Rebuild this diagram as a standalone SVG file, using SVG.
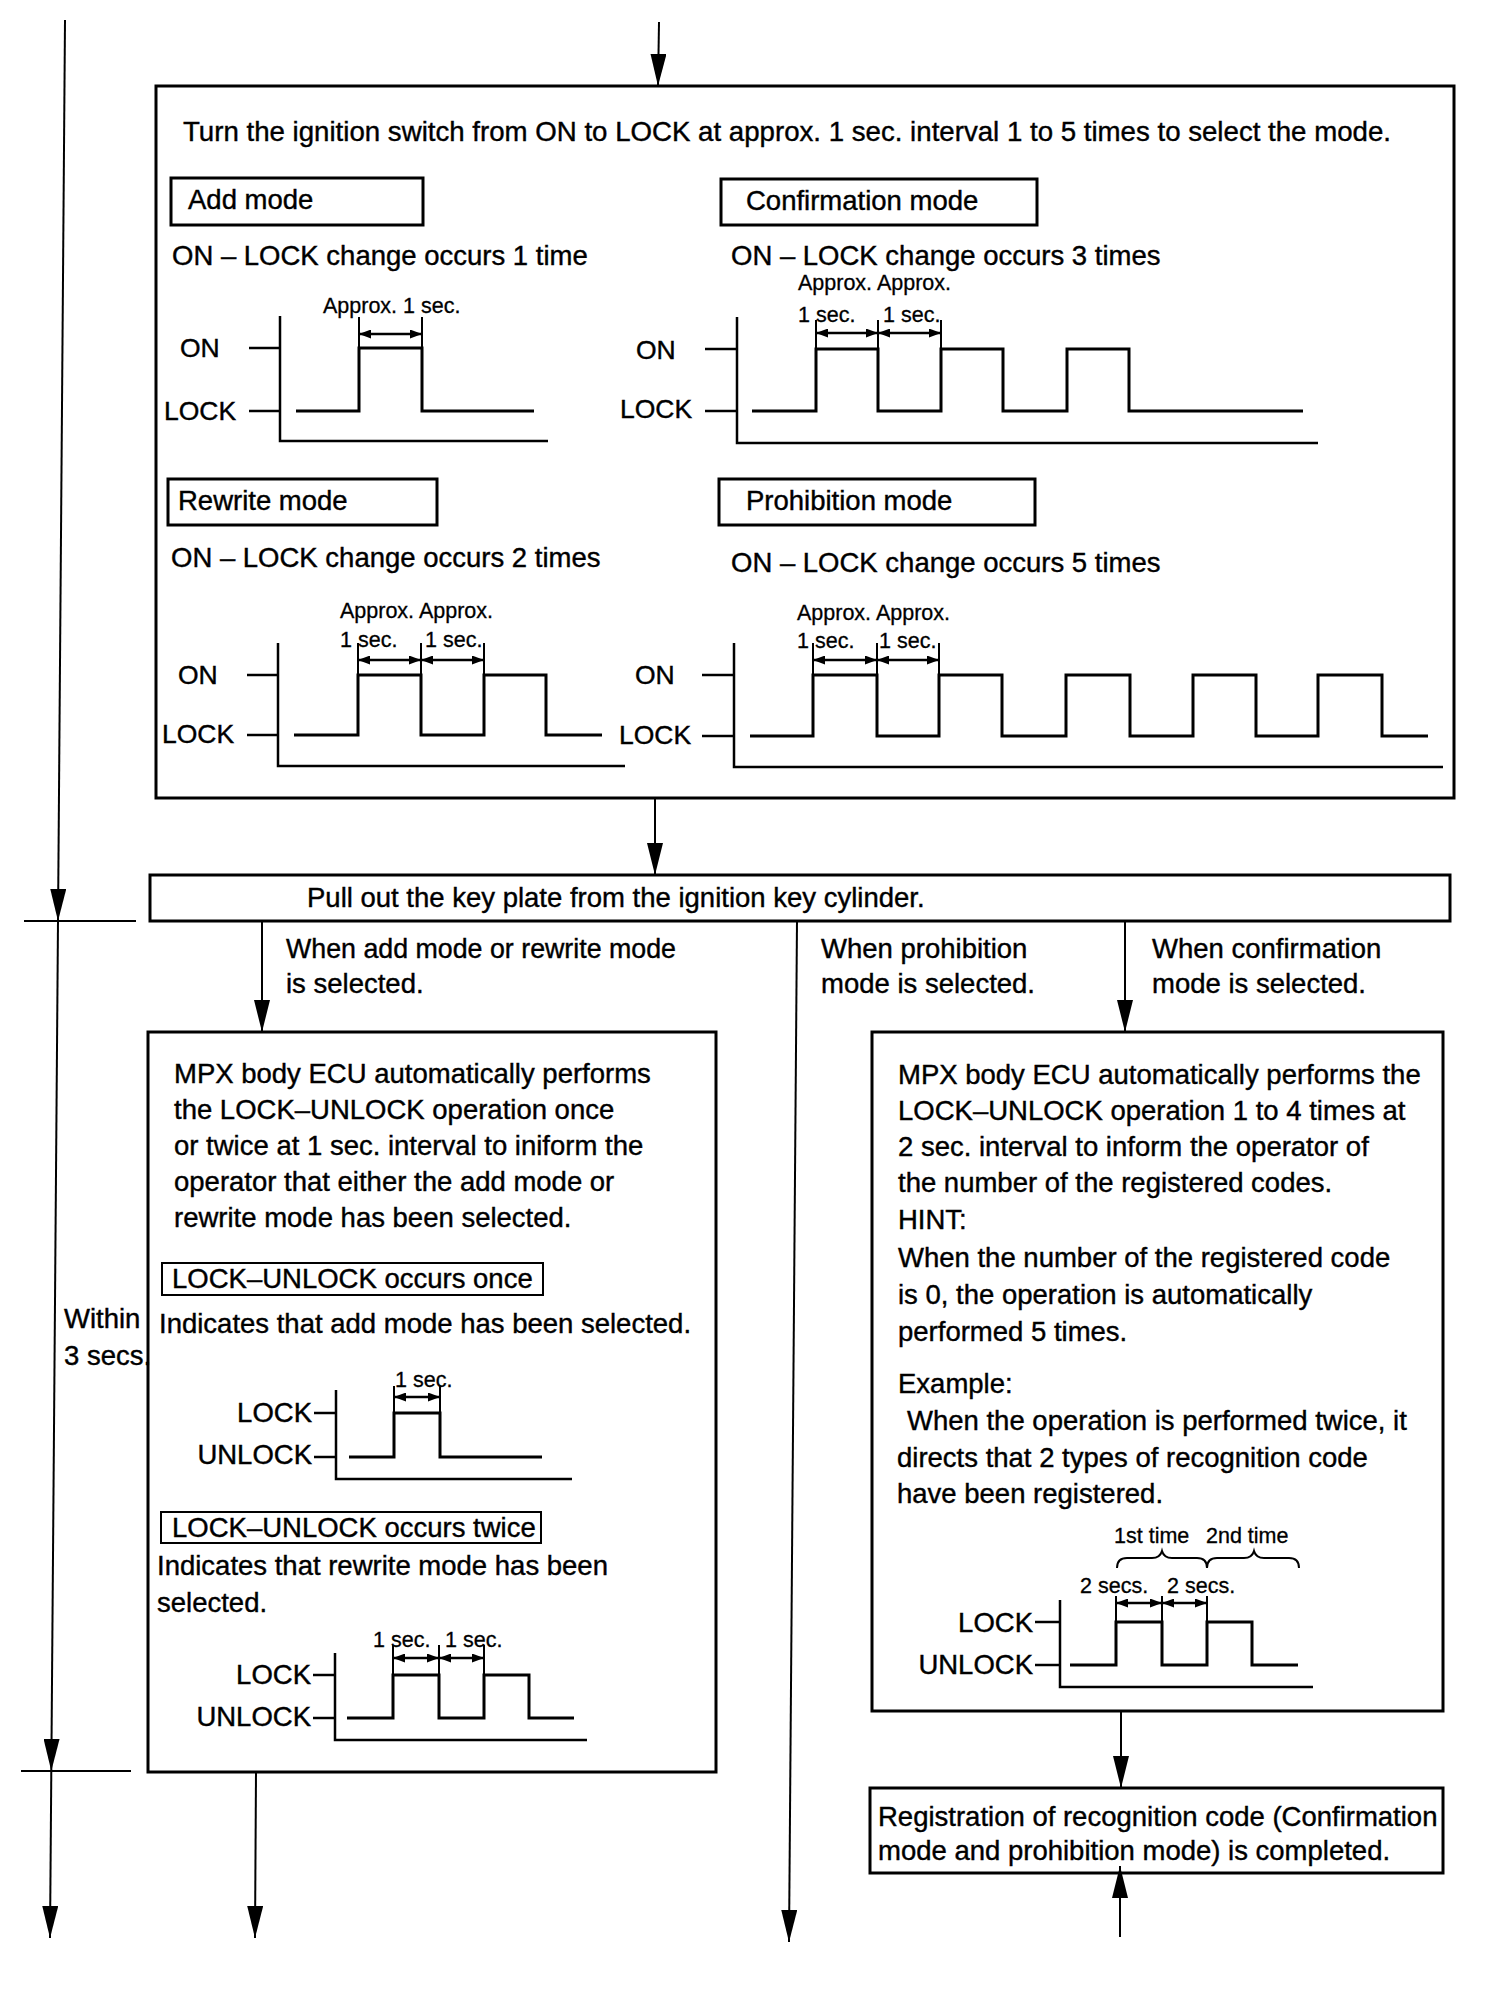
<svg xmlns="http://www.w3.org/2000/svg" width="1504" height="1996" viewBox="0 0 1504 1996">
<defs>
<style>
.bx{fill:none;stroke:#000;stroke-width:3}
.t{font-family:"Liberation Sans",Arial,Helvetica,sans-serif;font-size:27.5px;fill:#000;stroke:#000;stroke-width:0.4}
.s{font-family:"Liberation Sans",Arial,Helvetica,sans-serif;font-size:21.5px;fill:#000;stroke:#000;stroke-width:0.3}
.l{font-family:"Liberation Sans",Arial,Helvetica,sans-serif;font-size:26.5px;fill:#000;stroke:#000;stroke-width:0.4}
.w{fill:none;stroke:#000;stroke-width:3}
.ax{fill:none;stroke:#000;stroke-width:2.5}
.ex{fill:none;stroke:#000;stroke-width:2}
.dm{fill:none;stroke:#000;stroke-width:2.5;marker-start:url(#da);marker-end:url(#da)}
.c{fill:none;stroke:#000;stroke-width:2;marker-end:url(#ah)}
</style>
<marker id="ah" markerUnits="userSpaceOnUse" viewBox="0 0 32 16" markerWidth="32" markerHeight="16" refX="32" refY="8" orient="auto">
<path d="M0,0 L32,8 L0,16 z" fill="#000"/>
</marker>
<marker id="da" markerUnits="userSpaceOnUse" viewBox="0 0 12 9" markerWidth="12" markerHeight="9" refX="12" refY="4.5" orient="auto-start-reverse">
<path d="M0,0 L12,4.5 L0,9 z" fill="#000"/>
</marker>
</defs>
<rect width="1504" height="1996" fill="#fff"/>

<g id="connectors">
<line class="c" x1="659" y1="22" x2="658" y2="86"/>
<line class="c" x1="655" y1="798" x2="655" y2="875"/>
<line class="c" x1="65" y1="20" x2="58" y2="921"/>
<line class="c" x1="58" y1="921" x2="51.3" y2="1771"/>
<line class="c" x1="51.3" y1="1771" x2="50" y2="1938"/>
<line class="ex" x1="24" y1="921" x2="136" y2="921"/>
<line class="ex" x1="21" y1="1771" x2="131" y2="1771"/>
<line class="c" x1="262" y1="921" x2="262" y2="1032"/>
<line class="c" x1="1125" y1="921" x2="1125" y2="1032"/>
<line class="c" x1="797" y1="921" x2="789" y2="1942"/>
<line class="c" x1="256" y1="1772" x2="255" y2="1938"/>
<line class="c" x1="1121" y1="1711" x2="1121" y2="1788"/>
<line class="c" x1="1120" y1="1937" x2="1120" y2="1866"/>
</g>

<g id="mode-select">
<rect class="bx" x="156" y="86" width="1298" height="712"/>
<text class="t" x="183" y="141" textLength="1208" lengthAdjust="spacingAndGlyphs">Turn the ignition switch from ON to LOCK at approx. 1 sec. interval 1 to 5 times to select the mode.</text>

<g id="add-mode">
<rect class="bx" x="171" y="178" width="252" height="47"/>
<text class="t" x="188" y="209">Add mode</text>
<text class="t" x="172" y="265">ON – LOCK change occurs 1 time</text>
<text class="s" x="323" y="313">Approx. 1 sec.</text>
<polyline class="ax" points="280,316 280,441 548,441"/>
<line class="ax" x1="249" y1="348" x2="280" y2="348"/>
<line class="ax" x1="249" y1="411" x2="280" y2="411"/>
<text class="l" x="180" y="357">ON</text>
<text class="l" x="164" y="420">LOCK</text>
<polyline class="w" points="296,411 359,411 359,348 422,348 422,411 534,411"/>
<line class="ex" x1="359" y1="317" x2="359" y2="348"/>
<line class="ex" x1="422" y1="317" x2="422" y2="348"/>
<line class="dm" x1="359" y1="334" x2="422" y2="334"/>
</g>

<g id="confirmation-mode">
<rect class="bx" x="721" y="179" width="316" height="46"/>
<text class="t" x="746" y="210">Confirmation mode</text>
<text class="t" x="731" y="265">ON – LOCK change occurs 3 times</text>
<text class="s" x="798" y="290">Approx. Approx.</text>
<text class="s" x="798" y="322">1 sec.</text>
<text class="s" x="883" y="322">1 sec.</text>
<polyline class="ax" points="737,317 737,443 1318,443"/>
<line class="ax" x1="705" y1="349" x2="737" y2="349"/>
<line class="ax" x1="705" y1="411" x2="737" y2="411"/>
<text class="l" x="636" y="359">ON</text>
<text class="l" x="620" y="418">LOCK</text>
<polyline class="w" points="752,411 816,411 816,349 878,349 878,411 941,411 941,349 1003,349 1003,411 1067,411 1067,349 1129,349 1129,411 1303,411"/>
<line class="ex" x1="816" y1="320" x2="816" y2="349"/>
<line class="ex" x1="878" y1="320" x2="878" y2="349"/>
<line class="ex" x1="941" y1="320" x2="941" y2="349"/>
<line class="dm" x1="816" y1="333" x2="878" y2="333"/>
<line class="dm" x1="878" y1="333" x2="941" y2="333"/>
</g>

<g id="rewrite-mode">
<rect class="bx" x="168" y="479" width="269" height="46"/>
<text class="t" x="178" y="510">Rewrite mode</text>
<text class="t" x="171" y="567">ON – LOCK change occurs 2 times</text>
<text class="s" x="340" y="618">Approx. Approx.</text>
<text class="s" x="340" y="647">1 sec.</text>
<text class="s" x="425" y="647">1 sec.</text>
<polyline class="ax" points="278,643 278,766 625,766"/>
<line class="ax" x1="247" y1="675" x2="278" y2="675"/>
<line class="ax" x1="247" y1="735" x2="278" y2="735"/>
<text class="l" x="178" y="684">ON</text>
<text class="l" x="162" y="743">LOCK</text>
<polyline class="w" points="294,735 358,735 358,675 421,675 421,735 484,735 484,675 546,675 546,735 602,735"/>
<line class="ex" x1="358" y1="643" x2="358" y2="675"/>
<line class="ex" x1="421" y1="643" x2="421" y2="675"/>
<line class="ex" x1="484" y1="643" x2="484" y2="675"/>
<line class="dm" x1="358" y1="660" x2="421" y2="660"/>
<line class="dm" x1="421" y1="660" x2="484" y2="660"/>
</g>

<g id="prohibition-mode">
<rect class="bx" x="719" y="479" width="316" height="46"/>
<text class="t" x="746" y="510">Prohibition mode</text>
<text class="t" x="731" y="572">ON – LOCK change occurs 5 times</text>
<text class="s" x="797" y="620">Approx. Approx.</text>
<text class="s" x="797" y="648">1 sec.</text>
<text class="s" x="879" y="648">1 sec.</text>
<polyline class="ax" points="734,643 734,767 1443,767"/>
<line class="ax" x1="702" y1="675" x2="734" y2="675"/>
<line class="ax" x1="702" y1="736" x2="734" y2="736"/>
<text class="l" x="635" y="684">ON</text>
<text class="l" x="619" y="744">LOCK</text>
<polyline class="w" points="750,736 813,736 813,675 877,675 877,736 939,736 939,675 1002,675 1002,736 1066,736 1066,675 1130,675 1130,736 1193,736 1193,675 1256,675 1256,736 1318,736 1318,675 1382,675 1382,736 1428,736"/>
<line class="ex" x1="813" y1="643" x2="813" y2="675"/>
<line class="ex" x1="877" y1="643" x2="877" y2="675"/>
<line class="ex" x1="939" y1="643" x2="939" y2="675"/>
<line class="dm" x1="813" y1="660" x2="877" y2="660"/>
<line class="dm" x1="877" y1="660" x2="939" y2="660"/>
</g>
</g>

<g id="pull-out">
<rect class="bx" x="150" y="875" width="1300" height="46"/>
<text class="t" x="307" y="907">Pull out the key plate from the ignition key cylinder.</text>
</g>

<g id="branch-labels">
<text class="t" x="286" y="958" textLength="390" lengthAdjust="spacingAndGlyphs">When add mode or rewrite mode</text>
<text class="t" x="286" y="993">is selected.</text>
<text class="t" x="821" y="958">When prohibition</text>
<text class="t" x="821" y="993">mode is selected.</text>
<text class="t" x="1152" y="958">When confirmation</text>
<text class="t" x="1152" y="993">mode is selected.</text>
</g>

<g id="within-label">
<text class="t" x="64" y="1328">Within</text>
<text class="t" x="64" y="1365">3 secs.</text>
</g>

<g id="add-rewrite-indication">
<rect class="bx" x="148" y="1032" width="568" height="740"/>
<text class="t" x="174" y="1083">MPX body ECU automatically performs</text>
<text class="t" x="174" y="1119">the LOCK–UNLOCK operation once</text>
<text class="t" x="174" y="1155">or twice at 1 sec. interval to iniform the</text>
<text class="t" x="174" y="1191">operator that either the add mode or</text>
<text class="t" x="174" y="1227">rewrite mode has been selected.</text>
<rect class="ex" x="162" y="1263" width="381" height="32"/>
<text class="t" x="172" y="1288">LOCK–UNLOCK occurs once</text>
<text class="t" x="159" y="1333">Indicates that add mode has been selected.</text>
<text class="s" x="395" y="1387">1 sec.</text>
<polyline class="ax" points="336,1390 336,1479 572,1479"/>
<line class="ax" x1="314" y1="1413" x2="336" y2="1413"/>
<line class="ax" x1="314" y1="1457" x2="336" y2="1457"/>
<text class="t" x="312" y="1422" text-anchor="end">LOCK</text>
<text class="t" x="312" y="1464" text-anchor="end">UNLOCK</text>
<polyline class="w" points="349,1457 394,1457 394,1413 440,1413 440,1457 542,1457"/>
<line class="ex" x1="394" y1="1386" x2="394" y2="1413"/>
<line class="ex" x1="440" y1="1386" x2="440" y2="1413"/>
<line class="dm" x1="394" y1="1397" x2="440" y2="1397"/>
<rect class="ex" x="161" y="1512" width="380" height="31"/>
<text class="t" x="172" y="1537">LOCK–UNLOCK occurs twice</text>
<text class="t" x="157" y="1575">Indicates that rewrite mode has been</text>
<text class="t" x="157" y="1612">selected.</text>
<text class="s" x="373" y="1647">1 sec.</text>
<text class="s" x="445" y="1647">1 sec.</text>
<polyline class="ax" points="335,1653 335,1740 587,1740"/>
<line class="ax" x1="313" y1="1675" x2="335" y2="1675"/>
<line class="ax" x1="313" y1="1718" x2="335" y2="1718"/>
<text class="t" x="311" y="1684" text-anchor="end">LOCK</text>
<text class="t" x="311" y="1726" text-anchor="end">UNLOCK</text>
<polyline class="w" points="347,1718 393,1718 393,1675 439,1675 439,1718 484,1718 484,1675 529,1675 529,1718 574,1718"/>
<line class="ex" x1="393" y1="1645" x2="393" y2="1675"/>
<line class="ex" x1="439" y1="1645" x2="439" y2="1675"/>
<line class="ex" x1="484" y1="1645" x2="484" y2="1675"/>
<line class="dm" x1="393" y1="1658" x2="439" y2="1658"/>
<line class="dm" x1="439" y1="1658" x2="484" y2="1658"/>
</g>

<g id="confirmation-indication">
<rect class="bx" x="872" y="1032" width="571" height="679"/>
<text class="t" x="898" y="1084">MPX body ECU automatically performs the</text>
<text class="t" x="898" y="1120">LOCK–UNLOCK operation 1 to 4 times at</text>
<text class="t" x="898" y="1156">2 sec. interval to inform the operator of</text>
<text class="t" x="898" y="1192">the number of the registered codes.</text>
<text class="t" x="898" y="1229">HINT:</text>
<text class="t" x="898" y="1267">When the number of the registered code</text>
<text class="t" x="898" y="1304">is 0, the operation is automatically</text>
<text class="t" x="898" y="1341">performed 5 times.</text>
<text class="t" x="898" y="1393">Example:</text>
<text class="t" x="907" y="1430">When the operation is performed twice, it</text>
<text class="t" x="897" y="1467">directs that 2 types of recognition code</text>
<text class="t" x="897" y="1503">have been registered.</text>
<text class="s" x="1114" y="1543">1st time</text>
<text class="s" x="1206" y="1543">2nd time</text>
<path class="ex" d="M1117,1568 Q1117,1558 1127,1558 L1152,1558 Q1160,1558 1162,1551 Q1164,1558 1172,1558 L1197,1558 Q1207,1558 1207,1568"/>
<path class="ex" d="M1207,1568 Q1207,1558 1217,1558 L1244,1558 Q1252,1558 1254,1551 Q1256,1558 1264,1558 L1289,1558 Q1299,1558 1299,1568"/>
<text class="s" x="1080" y="1593">2 secs.</text>
<text class="s" x="1167" y="1593">2 secs.</text>
<polyline class="ax" points="1060,1600 1060,1687 1313,1687"/>
<line class="ax" x1="1035" y1="1622" x2="1060" y2="1622"/>
<line class="ax" x1="1035" y1="1665" x2="1060" y2="1665"/>
<text class="t" x="1033" y="1632" text-anchor="end">LOCK</text>
<text class="t" x="1033" y="1674" text-anchor="end">UNLOCK</text>
<polyline class="w" points="1070,1665 1116,1665 1116,1622 1162,1622 1162,1665 1207,1665 1207,1622 1252,1622 1252,1665 1298,1665"/>
<line class="ex" x1="1116" y1="1596" x2="1116" y2="1622"/>
<line class="ex" x1="1162" y1="1596" x2="1162" y2="1622"/>
<line class="ex" x1="1207" y1="1596" x2="1207" y2="1622"/>
<line class="dm" x1="1116" y1="1603" x2="1162" y2="1603"/>
<line class="dm" x1="1162" y1="1603" x2="1207" y2="1603"/>
</g>

<g id="registration-complete">
<rect class="bx" x="870" y="1788" width="573" height="85"/>
<text class="t" x="878" y="1826">Registration of recognition code (Confirmation</text>
<text class="t" x="878" y="1860">mode and prohibition mode) is completed.</text>
</g>
</svg>
